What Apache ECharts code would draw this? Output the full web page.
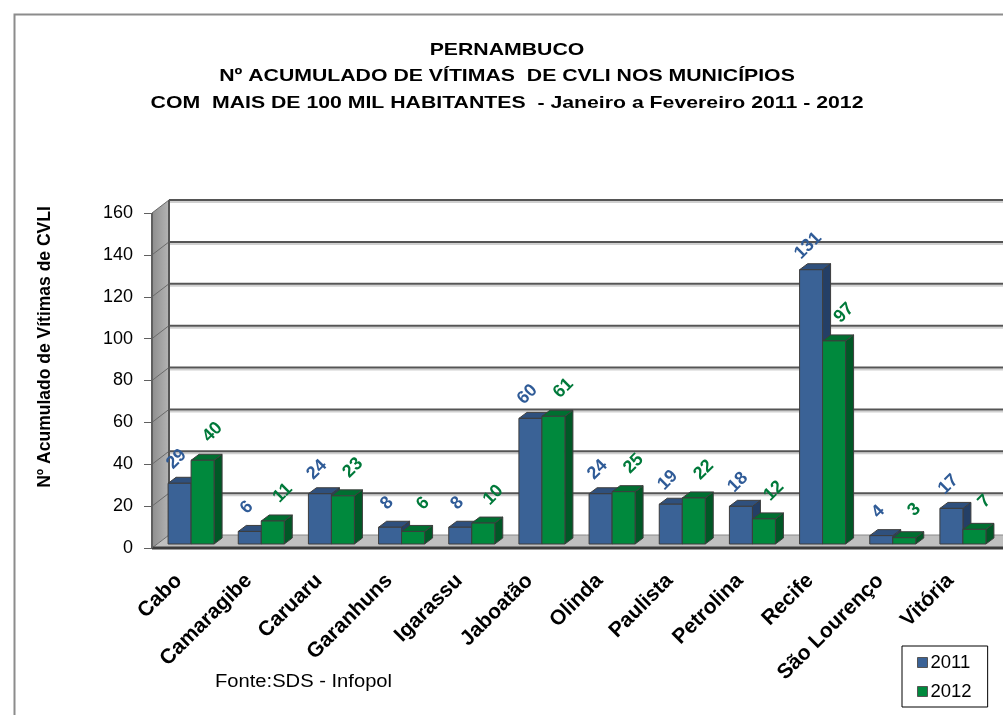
<!DOCTYPE html>
<html><head><meta charset="utf-8">
<script src="https://cdn.jsdelivr.net/npm/echarts@6/dist/echarts.min.js"></script>
<style>html,body{margin:0;padding:0;background:#fff}#c{width:1003px;height:715px}</style>
</head><body><div id="c"></div>
<script>
const categories = ['Cabo','Camaragibe','Caruaru','Garanhuns','Igarassu','Jaboatão','Olinda','Paulista','Petrolina','Recife','São Lourenço','Vitória'];
const values2011 = [29,6,24,8,8,60,24,19,18,131,4,17];
const values2012 = [40,11,23,6,10,61,25,22,12,97,3,7];
const seriesNames = ['2011','2012'];
const Y_MIN = 0, Y_MAX = 160, Y_STEP = 20;
const titleLines = ['PERNAMBUCO','Nº ACUMULADO DE VÍTIMAS  DE CVLI NOS MUNICÍPIOS','COM  MAIS DE 100 MIL HABITANTES  - Janeiro a Fevereiro 2011 - 2012'];
const yAxisTitle = 'Nº Acumulado de Vítimas de CVLI';
const sourceNote = 'Fonte:SDS - Infopol';

const FONT = '"Liberation Sans", Arial, sans-serif';
const WALL = {dx: 17, dy: -13};
const BAR_SHIFT = {x: 4, y: -4};
const BAR_W = 23;
const BAR_D = {dx: 8, dy: -6};
const STYLES = [
  {front: '#3a6296', top: '#2f507d', side: '#243f66', label: '#2f5b97', off: [-3, -24]},
  {front: '#00893d', top: '#006f31', side: '#005826', label: '#00793a', off: [10, -28]}
];

const chart = echarts.init(document.getElementById('c'), null, {renderer: 'canvas'});

function wallRender(params, api) {
  const cs = params.coordSys;
  const children = [];
  const bottom = cs.y + cs.height;
  const right = cs.x + cs.width + WALL.dx + 40;
  children.push({type: 'polygon', shape: {points: [[cs.x, bottom], [cs.x, cs.y], [cs.x + WALL.dx, cs.y + WALL.dy], [cs.x + WALL.dx, bottom + WALL.dy]]},
    style: {fill: new echarts.graphic.LinearGradient(0, 0, 1, 0, [{offset: 0, color: '#8e8e8e'}, {offset: 1, color: '#b4b4b4'}])}});
  children.push({type: 'polygon', shape: {points: [[cs.x, bottom], [right, bottom], [right, bottom + WALL.dy], [cs.x + WALL.dx, bottom + WALL.dy]]},
    style: {fill: '#c0c0c0'}});
  for (let v = Y_MIN; v <= Y_MAX; v += Y_STEP) {
    const yf = api.coord([0, v])[1];
    if (v > Y_MIN) {
      children.push({type: 'line', shape: {x1: cs.x + WALL.dx, y1: yf + WALL.dy + 2, x2: right, y2: yf + WALL.dy + 2}, style: {stroke: '#d0d0d0', lineWidth: 2}});
      children.push({type: 'line', shape: {x1: cs.x + WALL.dx, y1: yf + WALL.dy, x2: right, y2: yf + WALL.dy}, style: {stroke: '#555555', lineWidth: 2}});
    } else {
      children.push({type: 'line', shape: {x1: cs.x + WALL.dx, y1: yf + WALL.dy, x2: right, y2: yf + WALL.dy}, style: {stroke: '#8a8a8a', lineWidth: 1}});
    }
    children.push({type: 'line', shape: {x1: cs.x, y1: yf, x2: cs.x + WALL.dx, y2: yf + WALL.dy}, style: {stroke: '#6a6a6a', lineWidth: 1}});
  }
  children.push({type: 'line', shape: {x1: cs.x + WALL.dx, y1: cs.y + WALL.dy, x2: cs.x + WALL.dx, y2: bottom + WALL.dy}, style: {stroke: '#555555', lineWidth: 2}});
  children.push({type: 'line', shape: {x1: cs.x, y1: bottom, x2: right, y2: bottom}, style: {stroke: '#3c3c3c', lineWidth: 3}});
  children.push({type: 'line', shape: {x1: cs.x, y1: cs.y, x2: cs.x, y2: bottom}, style: {stroke: '#606060', lineWidth: 2}});
  return {type: 'group', children: children};
}

function barRender(sIdx) {
  const st = STYLES[sIdx];
  return function (params, api) {
    const idx = api.value(0), v = api.value(1);
    const top = api.coord([idx, v]);
    const base = api.coord([idx, 0]);
    const x0 = top[0] + BAR_SHIFT.x + (sIdx === 0 ? -BAR_W : 0);
    const x1 = x0 + BAR_W;
    const yt = top[1] + BAR_SHIFT.y, yb = base[1] + BAR_SHIFT.y;
    const stroke = {stroke: '#3d3d3d', lineWidth: 1};
    return {type: 'group', children: [
      {type: 'polygon', shape: {points: [[x1, yb], [x1, yt], [x1 + BAR_D.dx, yt + BAR_D.dy], [x1 + BAR_D.dx, yb + BAR_D.dy]]}, style: Object.assign({fill: st.side}, stroke)},
      {type: 'polygon', shape: {points: [[x0, yt], [x1, yt], [x1 + BAR_D.dx, yt + BAR_D.dy], [x0 + BAR_D.dx, yt + BAR_D.dy]]}, style: Object.assign({fill: st.top}, stroke)},
      {type: 'rect', shape: {x: x0, y: yt, width: BAR_W, height: yb - yt}, style: Object.assign({fill: st.front}, stroke)},
      {type: 'text', x: (x0 + x1) / 2 + st.off[0], y: yt + st.off[1], rotation: Math.PI / 4,
        style: {text: String(v), fill: st.label, font: 'bold 18px ' + FONT, align: 'center', verticalAlign: 'middle'}}
    ]};
  };
}

const titleGraphics = titleLines.map(function (t, i) {
  return {type: 'text', x: 507, y: 50 + i * 26.5, scaleX: 1.25,
    style: {text: t, font: 'bold 17px ' + FONT, fill: '#000', align: 'center', verticalAlign: 'middle'}};
});

const option = {
  backgroundColor: '#fff',
  animation: false,
  legend: {
    orient: 'vertical', left: 902, top: 646, padding: [7, 16, 6, 15], itemGap: 10,
    itemWidth: 10, itemHeight: 10, borderColor: '#000', borderWidth: 1,
    textStyle: {fontFamily: FONT, fontSize: 18.5, color: '#000', padding: [0, 0, 0, -2]},
    data: seriesNames.map(function (n) { return {name: n, icon: 'rect', itemStyle: {borderColor: '#555', borderWidth: 1}}; })
  },
  grid: {left: 152, top: 213, width: 842, height: 335},
  xAxis: {
    type: 'category', data: categories,
    axisLine: {show: false}, axisTick: {show: false},
    axisLabel: {interval: 0, rotate: 45, margin: 21, padding: [0, 12, 0, 0], fontFamily: FONT, fontWeight: 'bold', fontSize: 21, color: '#000'}
  },
  yAxis: {
    type: 'value', min: Y_MIN, max: Y_MAX, interval: Y_STEP, z: 10,
    axisLine: {show: false},
    axisTick: {show: true, length: 8, lineStyle: {color: '#606060'}},
    splitLine: {show: false},
    axisLabel: {margin: 19, fontFamily: FONT, fontSize: 18, color: '#000'}
  },
  graphic: [
    {type: 'rect', left: 12, top: 12, shape: {width: 1010, height: 720}, style: {fill: 'none', stroke: '#8c8c8c', lineWidth: 2}, z: -1},
    {type: 'text', x: 45, y: 347, rotation: Math.PI / 2,
      style: {text: yAxisTitle, font: 'bold 17.5px ' + FONT, fill: '#000', align: 'center', verticalAlign: 'middle'}},
    {type: 'text', x: 215, y: 682, scaleX: 1.12,
      style: {text: sourceNote, font: '18px ' + FONT, fill: '#000', align: 'left', verticalAlign: 'middle'}}
  ].concat(titleGraphics),
  series: [
    {type: 'custom', name: 'walls', renderItem: wallRender, data: [[0, 0]], clip: false, silent: true, z: 1, legendHoverLink: false},
    {type: 'custom', name: seriesNames[0], renderItem: barRender(0), data: values2011.map(function (v, i) { return [i, v]; }),
      encode: {x: 0, y: 1}, clip: false, z: 3, itemStyle: {color: STYLES[0].front}},
    {type: 'custom', name: seriesNames[1], renderItem: barRender(1), data: values2012.map(function (v, i) { return [i, v]; }),
      encode: {x: 0, y: 1}, clip: false, z: 3, itemStyle: {color: STYLES[1].front}}
  ]
};
chart.setOption(option);
</script></body></html>
